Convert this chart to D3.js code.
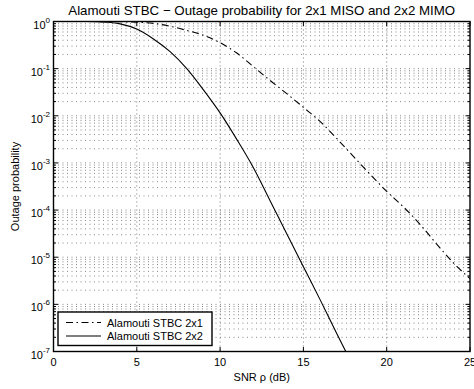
<!DOCTYPE html>
<html>
<head>
<meta charset="utf-8">
<script src="https://cdn.jsdelivr.net/npm/d3@7"></script>
<style>
  html, body { margin: 0; padding: 0; background: #fff; }
  svg { display: block; font-family: "Liberation Sans", Arial, Helvetica, sans-serif; }
</style>
</head>
<body>
<svg id="chart" width="474" height="389"></svg>
<script>
// ---- data ----
const snrDb = [0,1,2,3,4,5,6,7,8,9,10,11,12,13,14,15,16,17,18,19,20,21,22,23,24,25];
const outage2x1 = [1, 1, 0.9977, 0.9954, 0.9886, 0.966, 0.912, 0.794, 0.646, 0.513, 0.355, 0.214,
  0.110, 0.0562, 0.0295, 0.0151, 7.6e-3, 3.3e-3, 1.38e-3, 5.75e-4, 2.5e-4, 1.17e-4, 5.0e-5,
  1.9e-5, 7.6e-6, 3.5e-6];
const outage2x2 = [1, 1, 0.9977, 0.977, 0.891, 0.692, 0.427, 0.229, 0.1, 0.0355, 0.0115, 3.16e-3,
  7.9e-4, 1.58e-4, 3.16e-5, 6.3e-6, 1.26e-6, 2.4e-7, 4.8e-8];
const seriesNames = ["Alamouti STBC 2x1", "Alamouti STBC 2x2"];
const xTicks = [0, 5, 10, 15, 20, 25];
const yExponents = [0, -1, -2, -3, -4, -5, -6, -7];
const titleText = "Alamouti STBC \u2212 Outage probability for 2x1 MISO and 2x2 MIMO";
const xLabelText = "SNR \u03c1 (dB)";
const yLabelText = "Outage probability";

// ---- layout ----
const L = 53.5, R = 470, T = 21.5, B = 351.5;
const svg = d3.select("#chart");
const x = d3.scaleLinear().domain([0, 25]).range([L, R]);
const y = d3.scaleLog().domain([1e-7, 1]).range([B, T]);

// grid
const grid = svg.append("g");
const minorVals = [];
for (let e = -7; e < 0; e++) for (let m = 1; m <= 9; m++) minorVals.push(m * Math.pow(10, e));
minorVals.push(1);
grid.selectAll("line.h").data(minorVals.filter(v => v > 1e-7 && v < 1)).enter().append("line")
  .attr("x1", L).attr("x2", R)
  .attr("y1", d => y(d)).attr("y2", d => y(d))
  .attr("stroke", "#888").attr("stroke-width", 1).attr("stroke-dasharray", "1,3.5");
grid.selectAll("line.v").data(xTicks.filter(t => t > 0 && t < 25)).enter().append("line")
  .attr("x1", d => x(d)).attr("x2", d => x(d))
  .attr("y1", T).attr("y2", B)
  .attr("stroke", "#777").attr("stroke-width", 1).attr("stroke-dasharray", "1,3");

// ticks (inward, both sides)
const tk = svg.append("g").attr("stroke", "#000").attr("stroke-width", 1);
xTicks.forEach(t => {
  tk.append("line").attr("x1", x(t)).attr("x2", x(t)).attr("y1", B).attr("y2", B - 4.5);
  tk.append("line").attr("x1", x(t)).attr("x2", x(t)).attr("y1", T).attr("y2", T + 4.5);
});
minorVals.filter(v => v >= 1e-7 && v <= 1).forEach(v => {
  const isMajor = Math.abs(Math.log10(v) - Math.round(Math.log10(v))) < 1e-9;
  const len = isMajor ? 4.5 : 2.5;
  tk.append("line").attr("x1", L).attr("x2", L + len).attr("y1", y(v)).attr("y2", y(v));
  tk.append("line").attr("x1", R).attr("x2", R - len).attr("y1", y(v)).attr("y2", y(v));
});

// curves
const clipId = "plotclip";
svg.append("clipPath").attr("id", clipId).append("rect")
  .attr("x", L).attr("y", T).attr("width", R - L).attr("height", B - T);
const line = d3.line().x(d => x(d[0])).y(d => y(d[1])).curve(d3.curveMonotoneX);
const d1 = snrDb.map((s, i) => [s, outage2x1[i]]);
const d2 = snrDb.slice(0, outage2x2.length).map((s, i) => [s, outage2x2[i]]);
const curves = svg.append("g").attr("clip-path", `url(#${clipId})`);
curves.append("path").attr("d", line(d1)).attr("fill", "none").attr("stroke", "#000")
  .attr("stroke-width", 1.1).attr("stroke-dasharray", "7,3.5,1.5,3.5");
curves.append("path").attr("d", line(d2)).attr("fill", "none").attr("stroke", "#000")
  .attr("stroke-width", 1.1);

// axis box
svg.append("rect").attr("x", L).attr("y", T).attr("width", R - L).attr("height", B - T)
  .attr("fill", "none").attr("stroke", "#000").attr("stroke-width", 1.4);

// tick labels
const xl = svg.append("g").attr("font-size", 11).attr("fill", "#000").attr("text-anchor", "middle");
xTicks.forEach(t => xl.append("text").attr("x", x(t)).attr("y", 366).text(t));
const yl = svg.append("g").attr("fill", "#000").attr("text-anchor", "end");
yExponents.forEach(e => {
  const tx = yl.append("text").attr("x", 50).attr("y", y(Math.pow(10, e)) + 7).attr("font-size", 11);
  tx.append("tspan").text("10");
  tx.append("tspan").attr("font-size", 8).attr("dy", -6).text(e === 0 ? "0" : "-" + Math.abs(e));
});

// title and axis labels
svg.append("text").attr("x", (L + R) / 2).attr("y", 14.5).attr("text-anchor", "middle")
  .attr("font-size", 13.3).text(titleText);
svg.append("text").attr("x", (L + R) / 2).attr("y", 381).attr("text-anchor", "middle")
  .attr("font-size", 11).text(xLabelText);
svg.append("text").attr("transform", `translate(19,${(T + B) / 2}) rotate(-90)`)
  .attr("text-anchor", "middle").attr("font-size", 11).text(yLabelText);

// legend
const lg = svg.append("g");
lg.append("rect").attr("x", 58).attr("y", 312).attr("width", 154).attr("height", 33.5)
  .attr("fill", "#fff").attr("stroke", "#000").attr("stroke-width", 1.4);
const rows = [{ y: 322.5, dash: "7,3.5,1.5,3.5" }, { y: 336, dash: null }];
rows.forEach((r, i) => {
  const ln = lg.append("line").attr("x1", 66).attr("x2", 101).attr("y1", r.y).attr("y2", r.y)
    .attr("stroke", "#000").attr("stroke-width", 1.1);
  if (r.dash) ln.attr("stroke-dasharray", r.dash);
  lg.append("text").attr("x", 107).attr("y", r.y + 4).attr("font-size", 11).text(seriesNames[i]);
});
</script>
</body>
</html>
